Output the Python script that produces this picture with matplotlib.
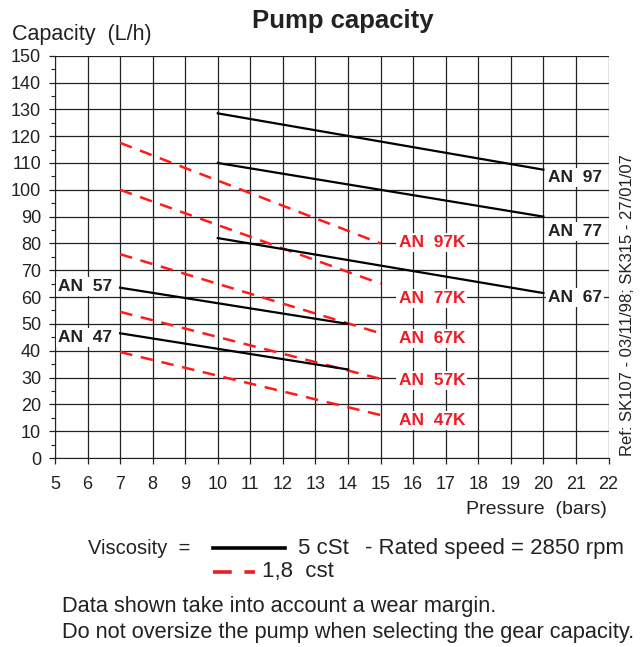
import matplotlib
matplotlib.use("Agg")
import matplotlib.pyplot as plt
from matplotlib.ticker import MultipleLocator

plt.rcParams["font.family"] = ["Liberation Sans", "DejaVu Sans"]

# 5 cSt curves (pressure start/end, capacity start/end)
black_names = ["AN 97", "AN 77", "AN 67", "AN 57", "AN 47"]
black_p = [[10, 20], [10, 20], [10, 20], [7, 14], [7, 14]]
black_q = [[128.5, 107.5], [110, 90], [82, 61.5], [63.5, 50], [46.5, 33]]
black_lab_x = [20.15, 20.15, 20.15, 5.1, 5.1]
black_lab_y = [104.5, 84.5, 60, 64, 45]

# 1,8 cst curves
red_names = ["AN 97K", "AN 77K", "AN 67K", "AN 57K", "AN 47K"]
red_p = [[7, 15], [7, 15], [7, 15], [7, 15], [7, 15]]
red_q = [[117.5, 80], [100, 65], [76, 46.5], [54.5, 29.5], [39.5, 16]]
red_lab_x = [15.55, 15.55, 15.55, 15.55, 15.55]
red_lab_y = [80.5, 59.5, 44.5, 29, 14]

fig = plt.figure(figsize=(6.44, 6.47), dpi=100)
ax = fig.add_axes([0.0854, 0.2921, 0.8595, 0.6218])

ax.set_xlim(5, 22)
ax.set_ylim(0, 150)
ax.xaxis.set_major_locator(MultipleLocator(1))
ax.yaxis.set_major_locator(MultipleLocator(10))
ax.yaxis.set_minor_locator(MultipleLocator(5))
ax.grid(True, which="major", color="#222222", linewidth=0.9)
ax.set_axisbelow(True)
ax.tick_params(axis="both", which="major", labelsize=13, length=4, width=0.9,
               color="#222222", labelcolor="#222222")
ax.tick_params(axis="y", which="minor", length=3, width=0.8, color="#222222")
ax.tick_params(axis="x", pad=9)
ax.tick_params(axis="y", pad=6)
for side in ["top", "right"]:
    ax.spines[side].set_visible(False)
for side in ["left", "bottom"]:
    ax.spines[side].set_color("#222222")

box = dict(facecolor="white", edgecolor="none", pad=1.5)

for p, q in zip(red_p, red_q):
    ax.plot(p, q, color="#ff1a1a", linewidth=1.8, dashes=[5, 3.5], zorder=3)
for p, q in zip(black_p, black_q):
    ax.plot(p, q, color="black", linewidth=1.6, zorder=3)

for name, x, y in zip(black_names, black_lab_x, black_lab_y):
    ax.text(x, y, name.replace(" ", "  "), ha="left", va="center", fontsize=12.5,
            fontweight="bold", color="#222222", bbox=box, zorder=4)
for name, x, y in zip(red_names, red_lab_x, red_lab_y):
    ax.text(x, y, name.replace(" ", "  "), ha="left", va="center", fontsize=12.5,
            fontweight="bold", color="#ee1c25", bbox=box, zorder=4)

fig.text(0.533, 0.967, "Pump capacity", ha="center", va="center",
         fontsize=18.5, fontweight="bold", color="#222222")
fig.text(0.018, 0.946, "Capacity  (L/h)", ha="left", va="center",
         fontsize=15.5, color="#222222")
fig.text(0.943, 0.212, "Pressure  (bars)", ha="right", va="center",
         fontsize=14, color="#222222")
fig.text(0.974, 0.528, "Ref: SK107 - 03/11/98; SK315 - 27/01/07", rotation=90,
         ha="center", va="center", fontsize=12, color="#222222")

# legend drawn by hand below the plot
fig.text(0.137, 0.153, "Viscosity  =", ha="left", va="center", fontsize=14.5, color="#222222")
fig.add_artist(plt.Line2D([0.331, 0.443], [0.153, 0.153], color="black", linewidth=2.6))
fig.text(0.4627, 0.153, "5 cSt", ha="left", va="center", fontsize=16, color="#222222")
fig.text(0.567, 0.153, "- Rated speed = 2850 rpm", ha="left", va="center",
         fontsize=16, color="#222222")
fig.add_artist(plt.Line2D([0.331, 0.396], [0.116, 0.116], color="#ee1c25",
                          linewidth=2.6, dashes=[5.2, 3.5]))
fig.text(0.407, 0.116, "1,8  cst", ha="left", va="center", fontsize=16, color="#222222")

fig.text(0.096, 0.062, "Data shown take into account a wear margin.", ha="left",
         va="center", fontsize=15.7, color="#222222")
fig.text(0.096, 0.023, "Do not oversize the pump when selecting the gear capacity.",
         ha="left", va="center", fontsize=15.7, color="#222222")

fig.savefig("out.png", dpi=100)
